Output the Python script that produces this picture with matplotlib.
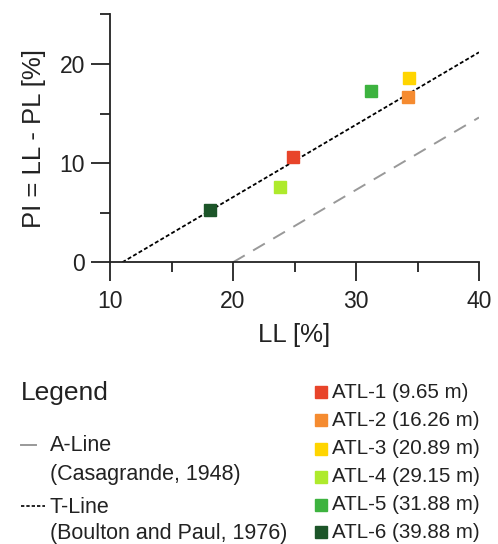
import matplotlib
matplotlib.use("Agg")
import matplotlib.pyplot as plt
from matplotlib.ticker import MultipleLocator

plt.rcParams["font.family"] = ["Liberation Sans", "DejaVu Sans"]

# sample data
samples = ["ATL-1", "ATL-2", "ATL-3", "ATL-4", "ATL-5", "ATL-6"]
depths = ["9.65", "16.26", "20.89", "29.15", "31.88", "39.88"]
ll = [24.9, 34.2, 34.3, 23.8, 31.2, 18.1]
pi = [10.6, 16.7, 18.6, 7.6, 17.3, 5.3]
colors = ["#E8442A", "#F58B30", "#FFD500", "#AEEA2C", "#3DB33F", "#1C5529"]

# reference lines (end points)
a_line_ll = [20, 40]
a_line_pi = [0, 14.6]
t_line_ll = [11, 40]
t_line_pi = [0, 21.17]

W, H = 498, 544
fig = plt.figure(figsize=(W / 100, H / 100), dpi=100)

# main axes, placed in pixels
x0, x1, ytop, ybot = 110, 479, 14.3, 262.3
ax = fig.add_axes([x0 / W, 1 - ybot / H, (x1 - x0) / W, (ybot - ytop) / H])

ax.plot(a_line_ll, a_line_pi, color="#999999", lw=1.4, dashes=(7, 5))
ax.plot(t_line_ll, t_line_pi, color="black", lw=1.3, dashes=(2.2, 1.3))
for x, y, c in zip(ll, pi, colors):
    ax.plot(x, y, marker="s", ms=8, color=c, mec=c, ls="none")

ax.set_xlim(10, 40)
ax.set_ylim(0, 25)
ax.spines["top"].set_visible(False)
ax.spines["right"].set_visible(False)
for s in ("left", "bottom"):
    ax.spines[s].set_linewidth(1.3)
    ax.spines[s].set_color("#222222")

ax.xaxis.set_major_locator(MultipleLocator(10))
ax.xaxis.set_minor_locator(MultipleLocator(5))
ax.yaxis.set_major_locator(MultipleLocator(10))
ax.yaxis.set_minor_locator(MultipleLocator(5))
ax.tick_params(which="major", length=14, width=1.3, color="#222222",
               labelsize=16.5, pad=4, direction="out", labelcolor="#222222")
ax.tick_params(axis="x", which="major", pad=6)
ax.tick_params(which="minor", length=7, width=1.3, color="#222222",
               direction="out")
ax.set_xlabel("LL [%]", fontsize=18.5, labelpad=7, color="#222222")
ax.set_ylabel("PI = LL - PL [%]", fontsize=18.5, labelpad=10, color="#222222")

# legend block, drawn in pixel coordinates
lg = fig.add_axes([0, 0, 1, 1])
lg.set_xlim(0, W)
lg.set_ylim(H, 0)
lg.axis("off")
lg.patch.set_alpha(0)

tc = "#222222"
lg.text(21, 400, "Legend", fontsize=19, va="baseline", color=tc)
lg.plot([21, 36], [445, 445], color="#999999", lw=1.4)
lg.text(50, 451, "A-Line", fontsize=15.5, va="baseline", color=tc)
lg.text(50, 480, "(Casagrande, 1948)", fontsize=15.5, va="baseline", color=tc)
lg.plot([21, 45], [506, 506], color="black", lw=1.2, dashes=(2, 1.2))
lg.text(50, 513, "T-Line", fontsize=15.5, va="baseline", color=tc)
lg.text(50, 538.5, "(Boulton and Paul, 1976)", fontsize=15.5, va="baseline",
        color=tc)

row_y = [392, 420, 448.5, 476.5, 504.5, 532]
for y, name, d, c in zip(row_y, samples, depths, colors):
    lg.plot(320.5, y, marker="s", ms=8, color=c, mec=c, ls="none")
    lg.text(332, y, f"{name} ({d} m)", fontsize=14.8, va="center", color=tc)

fig.savefig("out.png", dpi=100)
